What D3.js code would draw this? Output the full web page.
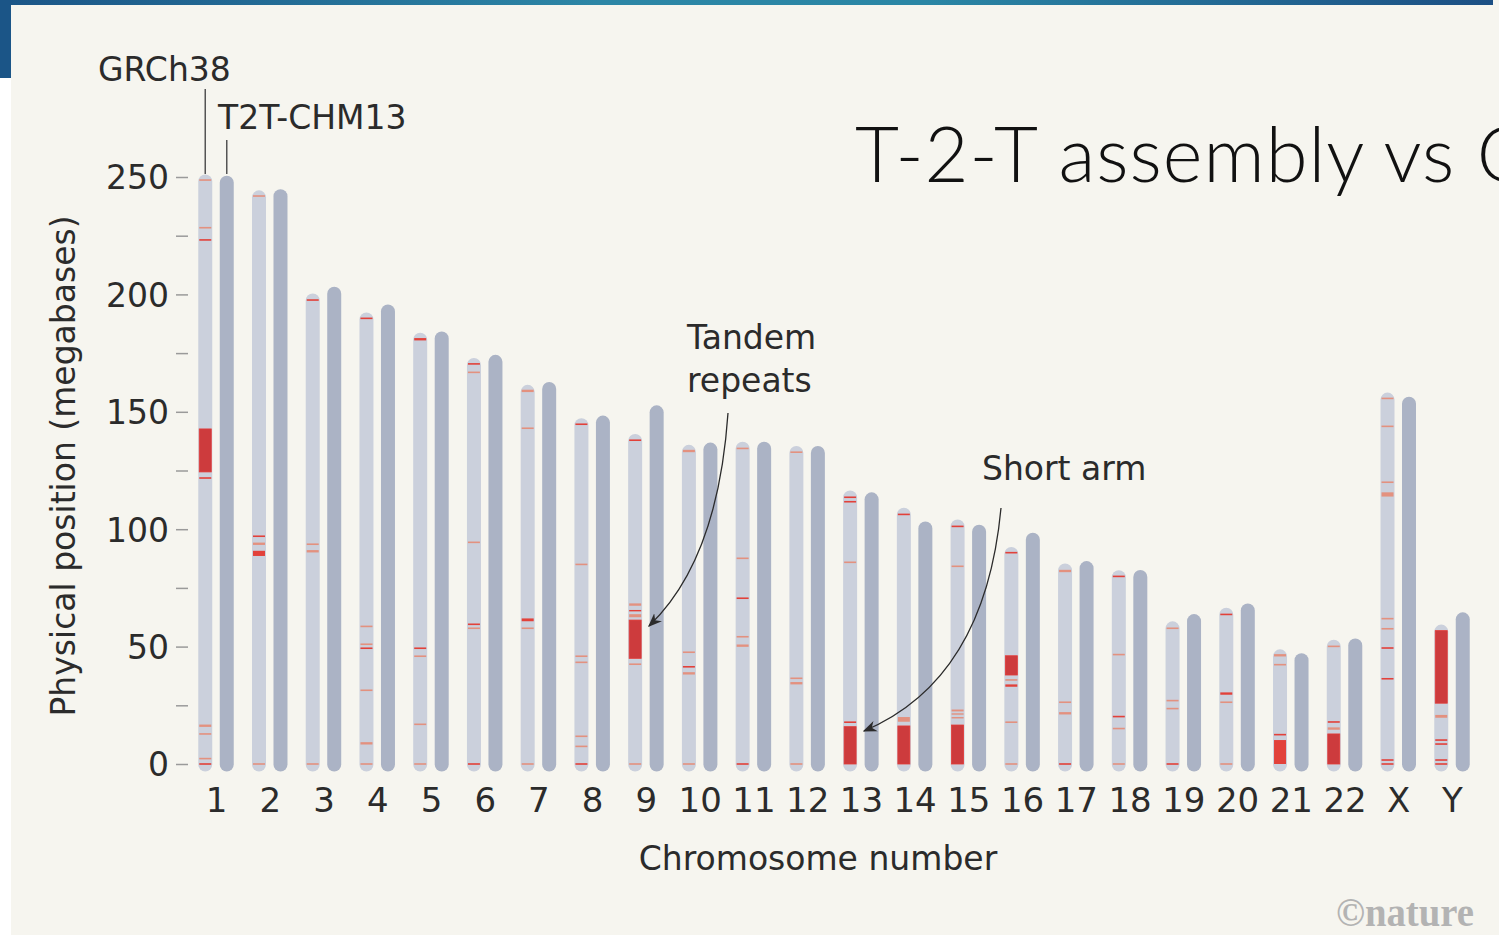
<html lang="en">
<head>
<meta charset="utf-8">
<script src="https://cdn.jsdelivr.net/npm/d3@7"></script>
<style>
body{margin:0;background:#fff;}
svg{display:block;}
text{font-family:"DejaVu Sans",sans-serif;fill:#2b2b2b;}
</style>
</head>
<body>
<div id="chart"></div>
<script>
const chromosomes=["1","2","3","4","5","6","7","8","9","10","11","12","13","14","15","16","17","18","19","20","21","22","X","Y"]
// chromosome lengths, megabases
const grch38Length=[248.96,242.19,198.30,190.21,181.54,170.81,159.35,145.14,138.39,133.80,135.09,133.28,114.36,107.04,101.99,90.34,83.26,80.37,58.62,64.44,46.71,50.82,156.04,57.23]
const t2tLength=[248.39,242.70,201.11,193.57,182.05,172.13,160.57,146.26,150.62,134.76,135.13,133.32,113.57,101.16,99.75,96.33,84.28,80.54,61.71,66.21,45.09,51.32,154.26,62.46]
const yTicks=[0,25,50,75,100,125,150,175,200,225,250]
// regions of GRCh38 that are new/corrected in T2T: [start, end, kind]  kind 0=minor 1=strong 2=large block
const bands=[
[[248.7,248.7,0],[228.4,228.4,0],[223.2,223.2,1],[124.4,142.7,2],[121.8,121.8,1],[15.8,16.8,0],[12.8,12.8,0],[2.3,2.3,0],[0,0,1]],
[[241.9,241.9,0],[97,97,1],[93.3,94.3,0],[88.6,90.8,1],[0,0,0]],
[[197.6,197.6,1],[93.6,93.6,0],[90.1,91.1,0],[0,0,0]],
[[189.8,189.8,1],[58.6,58.6,0],[51,51,0],[49.3,49.3,1],[31.4,31.4,0],[8.3,9.3,0],[0,0,0]],
[[180.4,181.4,1],[49.3,49.3,1],[45.9,45.9,0],[16.9,16.9,0],[0,0,0]],
[[170.4,170.4,1],[166.8,166.8,0],[94.4,94.4,0],[59.5,59.5,1],[57.8,57.8,0],[0,0,1]],
[[158.4,159.4,0],[143,143,0],[60.8,62,1],[57.8,57.8,0],[0,0,0]],
[[144.7,144.7,1],[85,85,0],[45.9,45.9,0],[43.3,43.3,0],[11.8,11.8,0],[7.5,7.5,0],[0,0,1]],
[[137.9,137.9,1],[67.4,68.4,0],[65,65.6,1],[62.5,63.8,0],[45,61.3,2],[42.5,42.5,0],[0,0,0]],
[[132.8,133.8,0],[47.6,47.6,0],[41.4,41.4,1],[38.1,39.1,0],[0,0,0]],
[[134.4,134.4,0],[87.6,87.6,0],[70.6,70.6,1],[54.2,54.2,0],[49.9,50.9,0],[0,0,1]],
[[132.8,132.8,0],[36.5,36.5,0],[33.9,34.9,0],[0,0,0]],
[[113.6,113.6,1],[111.7,111.7,1],[85.9,85.9,0],[17.8,17.8,1],[0,15.9,2]],
[[106.3,106.3,1],[18,20,0],[0,16.2,2]],
[[101.2,101.2,1],[84.2,84.2,0],[22.4,23.2,0],[21,21.6,0],[19.4,20,0],[0,16.6,2]],
[[90,90,1],[37.9,46.1,2],[35.8,35.8,0],[32.9,33.9,1],[17.8,17.8,0],[0,0,0]],
[[81.7,82.7,0],[26.3,26.3,0],[21.1,22.1,0],[0,0,1]],
[[79.9,79.9,1],[46.6,46.6,0],[20.2,20.2,1],[15.1,15.1,0],[0,0,0]],
[[57.8,57.8,0],[27,27,0],[23.6,23.6,0],[0,0,1]],
[[63.7,63.7,1],[29.5,30.5,1],[26.3,26.3,0],[0,0,0]],
[[45.8,46.8,0],[42.3,42.3,0],[12.5,12.5,1],[0,10.2,1]],
[[50.1,50.1,0],[17.9,17.9,1],[14.6,15.6,0],[0,12.8,2]],
[[155.7,155.7,0],[143.8,143.8,0],[120,120,0],[113.9,115.7,0],[61.9,61.9,0],[57.6,57.6,0],[49.4,49.4,1],[36.3,36.3,1],[1.7,1.7,1],[0,0,1]],
[[25.9,56.8,2],[19.7,20.9,0],[10.2,10.2,1],[8.5,8.5,1],[1.7,1.7,1],[0,0,1]]
]
const bandFill=["#e3917f","#e2413a","#cd3b3d"]

const W=1499,H=935
const svg=d3.select("#chart").append("svg").attr("width",W).attr("height",H)
const defs=svg.append("defs")
const grad=defs.append("linearGradient").attr("id","band")
grad.append("stop").attr("offset","0%").attr("stop-color","#1b5587")
grad.append("stop").attr("offset","40%").attr("stop-color","#2c86a6")
grad.append("stop").attr("offset","62%").attr("stop-color","#2a86a5")
grad.append("stop").attr("offset","100%").attr("stop-color","#1c4f84")
defs.append("filter").attr("id","soft").append("feGaussianBlur").attr("stdDeviation",0.5)
defs.append("marker").attr("id","arrow").attr("viewBox","0 0 10 10").attr("refX",9).attr("refY",5)
  .attr("markerWidth",14).attr("markerHeight",14).attr("markerUnits","userSpaceOnUse").attr("orient","auto")
  .append("path").attr("d","M0,1 L10,5 L0,9 L3,5 Z").attr("fill","#2b2b2b")

// slide frame
svg.append("rect").attr("x",11).attr("y",0).attr("width",W-11).attr("height",H).attr("fill","#f6f5ef")
svg.append("rect").attr("x",0).attr("y",0).attr("width",W-6).attr("height",5).attr("fill","url(#band)")
svg.append("rect").attr("x",0).attr("y",0).attr("width",11).attr("height",78).attr("fill","#1b5587")

// slide title runs off the right edge, as on the slide
svg.append("text").attr("x",855).attr("y",182).style("font-family","Lato, sans-serif").style("font-weight","300")
  .style("letter-spacing","1px").style("font-size","76px").style("fill","#111")
  .text("T-2-T assembly vs GRCh38")

const x=d3.scalePoint().domain(chromosomes).range([216,1452])
const y=d3.scaleLinear().domain([0,250]).range([764,177])
const off=10.75,bw=14

// y axis
const ya=svg.append("g").attr("transform","translate(188,0)")
  .call(d3.axisLeft(y).tickValues(yTicks).tickSize(12).tickPadding(7).tickFormat(d=>d%50==0?d:""))
ya.select(".domain").remove()
ya.selectAll(".tick line").attr("stroke","#9a9a9a").attr("stroke-width",1.5)
ya.selectAll(".tick text").style("font-size","33px").attr("dy","0.36em")

// x axis
const xa=svg.append("g").attr("transform","translate(0,812)")
  .call(d3.axisBottom(x).tickSize(0).tickPadding(0))
xa.select(".domain").remove()
xa.selectAll(".tick text").attr("y",0).attr("dy",0).style("font-size","34px")

svg.append("text").attr("x",818).attr("y",870).attr("text-anchor","middle").style("font-size","33px").text("Chromosome number")
svg.append("text").attr("transform","translate(75,466) rotate(-90)").attr("text-anchor","middle").style("font-size","33px")
  .text("Physical position (megabases)")

// chromosomes
const chrom=svg.append("g").selectAll("g").data(chromosomes).join("g")
chrom.append("rect").attr("x",(d,i)=>x(d)-off-bw/2).attr("y",(d,i)=>y(grch38Length[i])-5)
  .attr("width",bw).attr("height",(d,i)=>y(0)+7.5-y(grch38Length[i])+5).attr("rx",7).attr("fill","#cbd0dc").attr("filter","url(#soft)")
chrom.append("rect").attr("x",(d,i)=>x(d)+off-bw/2).attr("y",(d,i)=>y(t2tLength[i])-5)
  .attr("width",bw).attr("height",(d,i)=>y(0)+7.5-y(t2tLength[i])+5).attr("rx",7).attr("fill","#abb3c5").attr("filter","url(#soft)")
chrom.each(function(d,i){
  d3.select(this).selectAll(".bnd").data(bands[i]).join("rect").attr("class","bnd")
    .attr("x",x(d)-off-6).attr("width",12)
    .attr("y",b=>b[1]-b[0]<0.3?y(b[0])-0.8:y(b[1]))
    .attr("height",b=>b[1]-b[0]<0.3?1.6:y(b[0])-y(b[1]))
    .attr("fill",b=>bandFill[b[2]])
    .attr("stroke",b=>b[2]==2?"#e33a36":"none").attr("stroke-width",0.8)
})

// legend leaders
svg.append("line").attr("x1",x("1")-off).attr("x2",x("1")-off).attr("y1",89).attr("y2",174).attr("stroke","#555").attr("stroke-width",1.5)
svg.append("line").attr("x1",x("1")+off).attr("x2",x("1")+off).attr("y1",140).attr("y2",174).attr("stroke","#555").attr("stroke-width",1.5)
svg.append("text").attr("x",98).attr("y",81).style("font-size","33px").text("GRCh38")
svg.append("text").attr("x",218).attr("y",129).style("font-size","33px").text("T2T-CHM13")

// annotations
svg.append("text").attr("x",687).attr("y",349).style("font-size","33px").text("Tandem")
svg.append("text").attr("x",687).attr("y",392).style("font-size","33px").text("repeats")
svg.append("path").attr("d","M728,413 Q718,560 649,626").attr("fill","none").attr("stroke","#2b2b2b").attr("stroke-width",1.3).attr("marker-end","url(#arrow)")
svg.append("text").attr("x",982).attr("y",480).style("font-size","33px").text("Short arm")
svg.append("path").attr("d","M1001,508 Q985,680 864,731").attr("fill","none").attr("stroke","#2b2b2b").attr("stroke-width",1.3).attr("marker-end","url(#arrow)")

svg.append("text").attr("x",1336).attr("y",926).attr("textLength",138).attr("lengthAdjust","spacingAndGlyphs")
  .style("font-family","'Liberation Serif',serif").style("font-weight","bold").style("font-size","40px").style("fill","#b3b3b3").text("©nature")
</script>
</body>
</html>
